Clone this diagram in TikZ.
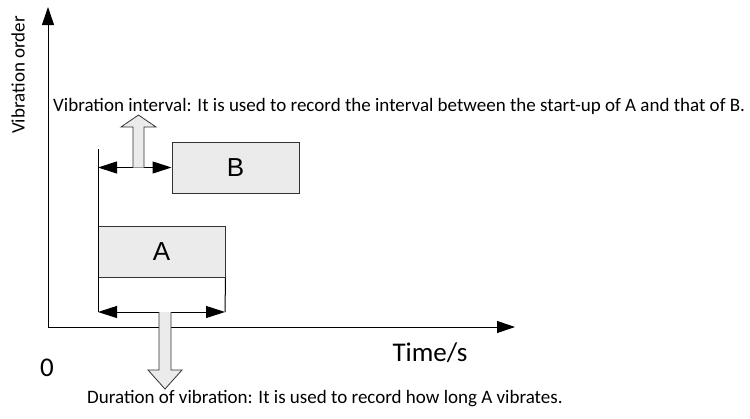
\documentclass[tikz,border=0pt]{standalone}
\usepackage{fontspec}
\setmainfont{Carlito}
\newfontfamily\boxfont{Liberation Sans}
\usetikzlibrary{arrows.meta,positioning,calc}

\tikzset{
  axis/.style={line width=1pt,-{Triangle[length=18pt,width=12pt]}},
  span/.style={line width=1pt,{Triangle[length=19pt,width=12pt]}-{Triangle[length=19pt,width=12pt]}},
  block/.style={draw=black!80,fill=black!8,line width=1pt,minimum width=127pt,
    minimum height=51pt,inner sep=0pt,font=\boxfont\fontsize{26}{26}\selectfont},
  hollow/.style={draw=black!80,fill=black!8,line width=0.8pt,line join=miter},
  note/.style={inner sep=0pt,font=\fontsize{19}{19}\selectfont},
  big/.style={inner sep=0pt,font=\fontsize{27}{27}\selectfont},
}

\begin{document}
\begin{tikzpicture}[x=1pt,y=-1pt]
    \useasboundingbox (0,0) rectangle (750,418);

    % the two vibrations
    \node[block] (A) at (161.5,252) {A};
    \node[block] (B) at (235.5,167.5) {B};

    % marker lines and spans
    \coordinate (startA) at (98,149);
    \coordinate (lowL) at (98,312);
    \coordinate (lowR) at (225,312);
    \coordinate (midL) at (98,167.5);
    \draw[line width=1pt] (startA) -- (lowL);
    \draw[line width=1pt] (A.south east) -- (lowR);
    \draw[span] (lowL) -- (lowR);
    \draw[span] (midL) -- (B.west);

    % axes
    \coordinate (origin) at (48,327);
    \coordinate (ytip) at (48,7);
    \coordinate (xtip) at (515,327);
    \draw[axis] (origin) -- (ytip);
    \draw[axis] (origin) -- (xtip);

    % hollow pointers
    \draw[hollow] (133,167.5) -- (133,127) -- (121,127) -- (138.5,115)
        -- (156,127) -- (144,127) -- (144,167.5);
    \draw[hollow] (159,312) -- (159,370) -- (148,370) -- (165,389)
        -- (182,370) -- (171,370) -- (171,312);

    % texts
    \node[note,rotate=90] (yname) at (18,75) {Vibration order};
    \node[note,anchor=west] (gap) at (53,106)
        {Vibration interval: It is used to record the interval between the start-up of A and that of B.};
    \node[note,anchor=west] (dur) at (87,399)
        {Duration of vibration: It is used to record how long A vibrates.};
    \node[big] (xname) at (430,353) {Time/s};
    \node[big] (zero) at (47,368) {0};
\end{tikzpicture}
\end{document}
